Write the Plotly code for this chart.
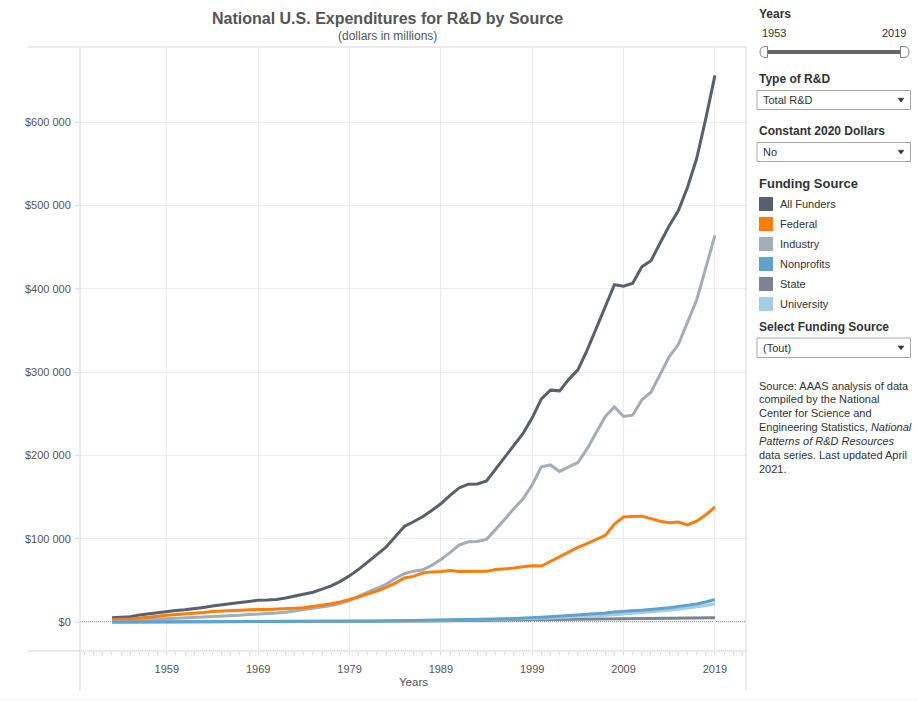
import plotly.graph_objects as go

W, H = 918, 701

years = list(range(1953, 2020))

all_funders = [5160, 5738, 6279, 8483, 9908, 10907, 12538,
               13711, 14564, 15636, 17519, 19103, 20252, 22072, 23346, 24666, 25996,
               26271, 26952, 28740, 30952, 33359, 35671, 39435, 43338, 48719, 55379,
               63224, 72292, 80748, 89950, 102244, 114671, 120249, 126360, 133881, 141891,
               151993, 160876, 165350, 165730, 169207, 183625, 197346, 212152, 226402, 245007,
               267768, 278239, 277366, 291186, 302508, 325936, 351991, 378990, 404773, 402931,
               406580, 426160, 433619, 454821, 475426, 493674, 521654, 556152, 604000, 656000]

federal = [2753, 3070, 3514, 4802, 6240, 6964, 8189,
           8915, 9510, 9899, 11264, 12573, 13043, 14186, 14557, 14986, 14988,
           14891, 15212, 16039, 16592, 17195, 18534, 20155, 21845, 24018, 26752,
           29996, 33826, 37187, 41643, 46671, 52753, 54726, 58690, 60150, 60530,
           61728, 60739, 60889, 60596, 60781, 62967, 63426, 64715, 66385, 67360,
           67200, 73000, 78500, 84000, 89500, 94000, 99000, 104000, 117600, 126000,
           126500, 127000, 124000, 121000, 119000, 120000, 116500, 121000, 128600, 138000]

industry = [2245, 2365, 2460, 3280, 3396, 3630, 4037,
            4516, 4757, 5124, 5457, 5888, 6548, 7328, 8142, 8929, 9857,
            10444, 10822, 11710, 13293, 14878, 15820, 17694, 19642, 22457, 25812,
            30929, 35950, 40692, 45264, 52187, 57962, 60991, 62576, 67977, 74966,
            83208, 92300, 96229, 96549, 99203, 110871, 123416, 136229, 147855, 164660,
            186135, 188439, 180711, 186174, 191268, 207757, 227136, 246731, 258016, 246610,
            248124, 266422, 275717, 297167, 318383, 333207, 359655, 386405, 425000, 464000]

nonprofits = [68, 73, 78, 95, 110, 125, 140,
              150, 165, 180, 200, 220, 240, 260, 280, 300, 320,
              343, 365, 390, 415, 450, 490, 540, 600, 670, 760,
              870, 980, 1100, 1220, 1350, 1500, 1650, 1800, 1950, 2150,
              2400, 2650, 2900, 3100, 3300, 3500, 3800, 4100, 4500, 5000,
              5700, 6400, 7000, 7600, 8200, 9000, 9900, 10800, 11900, 13000,
              13600, 14200, 15000, 16000, 17200, 18600, 20000, 21700, 24000, 27000]

state = [40, 45, 50, 60, 70, 80, 90,
         100, 110, 120, 140, 160, 190, 220, 250, 280, 320,
         360, 400, 430, 460, 500, 540, 580, 620, 680, 740,
         800, 860, 920, 980, 1050, 1150, 1250, 1350, 1450, 1550,
         1650, 1750, 1850, 1900, 1950, 2000, 2100, 2200, 2300, 2400,
         2600, 2800, 3000, 3100, 3200, 3350, 3500, 3700, 3900, 4200,
         4300, 4200, 4200, 4300, 4400, 4500, 4600, 4800, 5000, 5200]

university = [50, 55, 60, 65, 70, 75, 80,
              90, 100, 110, 125, 140, 160, 180, 200, 220, 240,
              260, 285, 310, 340, 380, 420, 470, 530, 600, 680,
              780, 880, 1000, 1120, 1250, 1400, 1550, 1700, 1850, 2000,
              2200, 2400, 2600, 2800, 3000, 3200, 3400, 3600, 3850, 4100,
              4400, 4800, 5200, 5700, 6200, 6700, 7300, 8000, 8700, 9500,
              10300, 11000, 12000, 13000, 14000, 15200, 16500, 18000, 19800, 22000]

series_names = ["All Funders", "Federal", "Industry", "Nonprofits", "State", "University"]
series_colors = {"All Funders": "#57606c", "Federal": "#fc7d0b", "Industry": "#a3acb9",
                 "Nonprofits": "#5fa2ce", "State": "#7b848f", "University": "#a3cce9"}
series_data = {"All Funders": all_funders, "Federal": federal, "Industry": industry,
               "Nonprofits": nonprofits, "State": state, "University": university}
draw_order = ["All Funders", "Industry", "Federal", "State", "University", "Nonprofits"]

x_ticks = [1959, 1969, 1979, 1989, 1999, 2009, 2019]
y_ticks = [0, 100000, 200000, 300000, 400000, 500000, 600000]
y_ticktext = ["$" + format(v, ",").replace(",", " ") for v in y_ticks]

source_lines = ["Source: AAAS analysis of data", "compiled by the National", "Center for Science and",
                "Engineering Statistics, <i>National</i>", "<i>Patterns of R&D Resources</i>",
                "data series. Last updated April", "2021."]

FONT = "Liberation Sans, Arial, sans-serif"


def px(x):
    return x / W


def py(y):
    return 1 - y / H


fig = go.Figure()
for name in draw_order:
    fig.add_trace(go.Scatter(x=years, y=series_data[name], mode="lines", name=name,
                             line=dict(color=series_colors[name], width=3),
                             hoverinfo="skip", showlegend=False))

shapes = []
annotations = []


def hline(y, x0, x1, color="#d6d6d6", width=1, layer="above"):
    shapes.append(dict(type="line", xref="paper", yref="paper", x0=px(x0), x1=px(x1), y0=py(y), y1=py(y),
                       line=dict(color=color, width=width), layer=layer))


def vline(x, y0, y1, color="#d6d6d6", width=1):
    shapes.append(dict(type="line", xref="paper", yref="paper", x0=px(x), x1=px(x), y0=py(y0), y1=py(y1),
                       line=dict(color=color, width=width), layer="above"))


def rect(x0, y0, x1, y1, fill, line_color=None, lw=1):
    shapes.append(dict(type="rect", xref="paper", yref="paper", x0=px(x0), x1=px(x1), y0=py(y1), y1=py(y0),
                       fillcolor=fill, line=dict(color=line_color or fill, width=lw if line_color else 0),
                       layer="above"))


def path(points_cmds, fill, line_color, lw=1):
    s = ""
    for c in points_cmds:
        if c[0] == "Z":
            s += " Z"
        elif c[0] == "Q":
            s += " Q %f,%f %f,%f" % (px(c[1]), py(c[2]), px(c[3]), py(c[4]))
        else:
            s += " %s %f,%f" % (c[0], px(c[1]), py(c[2]))
    shapes.append(dict(type="path", xref="paper", yref="paper", path=s.strip(), fillcolor=fill,
                       line=dict(color=line_color, width=lw), layer="above"))


def text(x, y, t, size=11, color="#333", anchor="left", yanchor="middle", bold=False):
    if bold:
        t = "<b>" + t + "</b>"
    annotations.append(dict(xref="paper", yref="paper", x=px(x), y=py(y), text=t, showarrow=False,
                            xanchor=anchor, yanchor=yanchor, align="left",
                            font=dict(family=FONT, size=size, color=color)))


# chart frame
hline(47, 28, 746)
hline(651, 28, 746)
vline(80, 47, 690)
vline(746, 47, 690)
hline(699, 0, W, color="#efefef")

# zero dotted line
shapes.append(dict(type="line", xref="paper", yref="y", x0=px(80), x1=px(746), y0=0, y1=0,
                   line=dict(color="#333333", width=1, dash="1px,1px"), layer="between"))

# titles
text(387.5, 19, "National U.S. Expenditures for R&D by Source", size=16, color="#555", anchor="center", bold=True)
text(387.5, 36, "(dollars in millions)", size=12, color="#555", anchor="center")
text(413, 682, "Years", size=11.5, color="#555", anchor="center")

# right panel: Years slider
text(757, 14, "Years", size=12, bold=True)
text(760, 33, "1953", size=11)
text(908, 33, "2019", size=11, anchor="right")
hline(52, 766, 901, color="#666666", width=4)
path([("M", 767.5, 46.5), ("L", 765.5, 46.5), ("Q", 760, 46.5, 760, 52), ("Q", 760, 57.5, 765.5, 57.5),
      ("L", 767.5, 57.5), ("Z",)], "white", "#808080")
path([("M", 900.5, 46.5), ("L", 903.5, 46.5), ("Q", 909, 46.5, 909, 52), ("Q", 909, 57.5, 903.5, 57.5),
      ("L", 900.5, 57.5), ("Z",)], "white", "#808080")


def dropdown(y0, y1, label):
    rect(757, y0, 910.5, y1, "white", "#a8a8a8")
    cy = (y0 + y1) / 2
    text(761, cy, label, size=11)
    path([("M", 898, cy - 1.8), ("L", 904, cy - 1.8), ("L", 901, cy + 2), ("Z",)], "#333333", "#333333", 0.5)


text(757, 79, "Type of R&D", size=12, bold=True)
dropdown(90.5, 109.5, "Total R&D")
text(757, 131, "Constant 2020 Dollars", size=12, bold=True)
dropdown(142.5, 161.5, "No")

text(757, 184, "Funding Source", size=13, bold=True)
for i, name in enumerate(series_names):
    cy = 204 + 20 * i
    rect(759, cy - 7, 773, cy + 7, series_colors[name])
    text(778, cy, name, size=11)

text(757, 327, "Select Funding Source", size=12, bold=True)
dropdown(338, 357.5, "(Tout)")

for i, line in enumerate(source_lines):
    text(757, 385.5 + 13.9 * i, line, size=11)

fig.update_layout(
    width=W, height=H,
    margin=dict(l=0, r=0, t=0, b=0),
    paper_bgcolor="white", plot_bgcolor="rgba(0,0,0,0)",
    font=dict(family=FONT, color="#555"),
    showlegend=False,
    shapes=shapes, annotations=annotations,
    xaxis=dict(domain=[px(80), px(746)], range=[1949.5, 2022.4],
               tickmode="array", tickvals=x_ticks,
               showgrid=True, gridcolor="#ebebeb", gridwidth=1,
               zeroline=False, showline=False,
               ticks="outside", ticklen=3, tickcolor="#d6d6d6",
               ticklabelstandoff=5,
               tickfont=dict(family=FONT, size=11, color="#555"),
               minor=dict(dtick=1, tick0=1953, ticks="outside", ticklen=3, tickcolor="#d6d6d6", showgrid=False),
               fixedrange=True),
    yaxis=dict(domain=[py(651), py(47)], range=[-34800, 690000],
               tickmode="array", tickvals=y_ticks, ticktext=y_ticktext,
               showgrid=True, gridcolor="#ebebeb", gridwidth=1,
               zeroline=False, showline=False,
               ticks="outside", ticklen=4, tickcolor="#d6d6d6",
               ticklabelstandoff=2,
               tickfont=dict(family=FONT, size=11, color="#555"),
               fixedrange=True),
)

fig.write_html("out.html", config={"displayModeBar": False},
               post_script="document.body.style.margin='0';document.body.style.padding='0';")
